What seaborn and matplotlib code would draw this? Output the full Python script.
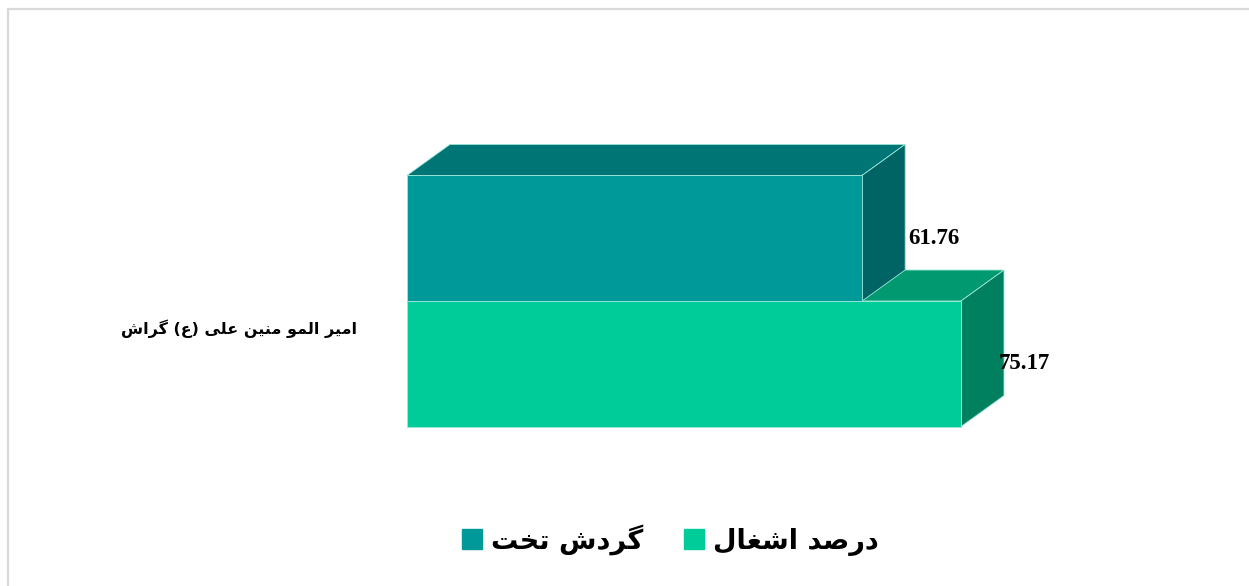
import matplotlib
matplotlib.use("Agg")
import matplotlib.pyplot as plt
import seaborn as sns
import pandas as pd
import numpy as np
from matplotlib.patches import Polygon
from matplotlib.lines import Line2D
from matplotlib.transforms import ScaledTranslation

# ---------------- data ----------------
categories = ["امیر المو منین علی (ع) گراش"]
series_names = ["گردش تخت", "درصد اشغال"]
bed_turnover = [61.76]
occupancy_pct = [75.17]
value_labels = ["61.76", "75.17"]

front_colors = ["#009999", "#00CC99"]
top_colors = ["#007575", "#009970"]
side_colors = ["#006464", "#00805F"]

# ---------------- simple Arabic/Persian shaping ----------------
DUAL = {
    "م": (0xFEE1, 0xFEE2, 0xFEE3, 0xFEE4),
    "ی": (0xFBFC, 0xFBFD, 0xFBFE, 0xFBFF),
    "ل": (0xFEDD, 0xFEDE, 0xFEDF, 0xFEE0),
    "ن": (0xFEE5, 0xFEE6, 0xFEE7, 0xFEE8),
    "ع": (0xFEC9, 0xFECA, 0xFECB, 0xFECC),
    "گ": (0xFB92, 0xFB93, 0xFB94, 0xFB95),
    "ش": (0xFEB5, 0xFEB6, 0xFEB7, 0xFEB8),
    "ص": (0xFEB9, 0xFEBA, 0xFEBB, 0xFEBC),
    "غ": (0xFECD, 0xFECE, 0xFECF, 0xFED0),
    "ت": (0xFE95, 0xFE96, 0xFE97, 0xFE98),
    "خ": (0xFEA5, 0xFEA6, 0xFEA7, 0xFEA8),
}
RIGHT = {
    "ا": (0xFE8D, 0xFE8E),
    "ر": (0xFEAD, 0xFEAE),
    "و": (0xFEED, 0xFEEE),
    "د": (0xFEA9, 0xFEAA),
}


def shape(s):
    chars = list(s)
    out = []
    for i, c in enumerate(chars):
        prev = chars[i - 1] if i > 0 else ""
        nxt = chars[i + 1] if i + 1 < len(chars) else ""
        if c in DUAL:
            p = prev in DUAL
            n = nxt in DUAL or nxt in RIGHT
            f = DUAL[c]
            code = f[3] if (p and n) else f[1] if p else f[2] if n else f[0]
            out.append(chr(code))
        elif c in RIGHT:
            p = prev in DUAL
            out.append(chr(RIGHT[c][1] if p else RIGHT[c][0]))
        else:
            out.append(c)
    vis = "".join(reversed(out))
    return vis.translate(str.maketrans("()", ")("))


# ---------------- figure ----------------
sns.set_theme(style="white")
plt.rcParams["font.family"] = ["DejaVu Sans"]
plt.rcParams["text.color"] = "black"

W, H, DPI = 1249, 586, 100
fig = plt.figure(figsize=(W / DPI, H / DPI), dpi=DPI)
fig.patch.set_facecolor("white")
ax = fig.add_axes([407 / W, (H - 458) / H, 737 / W, 314 / H])

df = pd.DataFrame({
    "category": categories * 2,
    "series": series_names,
    "value": bed_turnover + occupancy_pct,
})

sns.barplot(data=df, x="value", y="category", hue="series",
            hue_order=series_names, palette=front_colors, orient="h",
            width=0.8, legend=False, ax=ax, saturation=1)

ax.set_xlim(0, 100)
ax.set_ylim(0.5, -0.5)
ax.axis("off")

# 3D faces built from the bars seaborn drew
DX, DY = 43, 31  # depth offset in pixels
inv = ax.transData.inverted()
bars = sorted(ax.patches, key=lambda p: p.get_y())  # top bar first
edge = "#9fe8da"
for k, (bar, lab) in enumerate(zip(bars, value_labels)):
    x0, y0 = bar.get_x(), bar.get_y()
    x1, y1 = x0 + bar.get_width(), y0 + bar.get_height()
    tl = ax.transData.transform((x0, y0))
    tr = ax.transData.transform((x1, y0))
    br = ax.transData.transform((x1, y1))
    off = np.array([DX, DY])
    top = inv.transform(np.array([tl, tr, tr + off, tl + off]))
    side = inv.transform(np.array([tr, tr + off, br + off, br]))
    z = 3 if k == 0 else 1
    ax.add_patch(Polygon(top, closed=True, facecolor=top_colors[k],
                         edgecolor=edge, lw=0.6, zorder=z, clip_on=False))
    ax.add_patch(Polygon(side, closed=True, facecolor=side_colors[k],
                         edgecolor=edge, lw=0.6, zorder=z, clip_on=False))
    bar.set_zorder(z + 0.5)
    bar.set_edgecolor(edge)
    bar.set_linewidth(0.6)
    bar.set_clip_on(False)
    lx, ly = inv.transform((tr[0] + DX + (3 if k == 0 else -5),
                            (tr[1] + br[1]) / 2))
    ax.text(lx, ly, lab, ha="left", va="center", fontsize=16.5,
            fontweight="bold", family="Liberation Serif", color="black",
            zorder=5, clip_on=False)

# category label
ax.text(0, 0, shape(categories[0]), ha="right", va="center",
        fontsize=11.5, fontweight="bold", color="black",
        transform=ax.transData + ScaledTranslation(-50 / DPI, -28 / DPI, fig.dpi_scale_trans))

# legend
handles = [Line2D([], [], marker="s", linestyle="none", markersize=15,
                  markerfacecolor=c, markeredgecolor=c) for c in front_colors]
leg = fig.legend(handles, [shape(s) for s in series_names], loc="center",
                 bbox_to_anchor=(670 / W, 1 - 540 / H), ncol=2, frameon=False,
                 prop={"size": 19.5, "weight": "bold", "family": "DejaVu Sans"},
                 handletextpad=0.3, columnspacing=1.5, handlelength=0.8)
for t in leg.get_texts():
    t.set_color("black")

# light frame (left & top)
fig.add_artist(Line2D([8 / W, 8 / W], [0, 1 - 9 / H], color="#d9d9d9", lw=1.6,
                      transform=fig.transFigure))
fig.add_artist(Line2D([8 / W, 1], [1 - 9 / H, 1 - 9 / H], color="#d9d9d9", lw=1.6,
                      transform=fig.transFigure))

fig.savefig("out.png", dpi=DPI, facecolor="white")
